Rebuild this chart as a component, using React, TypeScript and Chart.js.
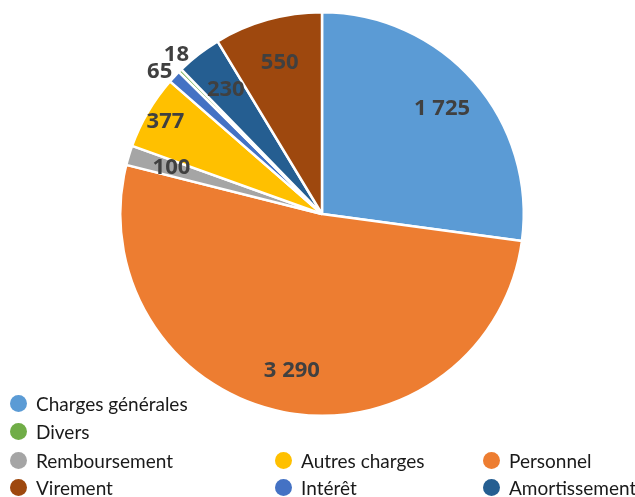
import React, { useEffect, useRef } from "react";
import { Chart, registerables } from "chart.js";

Chart.register(...registerables);

const categories = [
  "Charges générales",
  "Personnel",
  "Remboursement",
  "Autres charges",
  "Intérêt",
  "Divers",
  "Amortissement",
  "Virement",
];
const values = [1725, 3290, 100, 377, 65, 18, 230, 550];
const colors = ["#5B9BD5", "#ED7D31", "#A5A5A5", "#FFC000", "#4472C4", "#70AD47", "#255E91", "#9E480E"];
// label distance from centre, as a fraction of the radius
const labelRadius = [0.79, 0.79, 0.78, 0.9, 1.07, 1.07, 0.78, 0.78];
const labelAngleShift = [0, 0, 0, 0, -0.03, 0.04, 0, 0];

const legendRows = [
  ["Charges générales"],
  ["Divers"],
  ["Remboursement", "Autres charges", "Personnel"],
  ["Virement", "Intérêt", "Amortissement"],
];
const legendCols = [10, 275, 483];
const legendRowY = [403, 431, 460, 487];

const fmt = (v: number) => String(v).replace(/\B(?=(\d{3})+(?!\d))/g, " ");

const labelPlugin = {
  id: "sliceLabels",
  afterDatasetsDraw(chart: any) {
    const ctx = chart.ctx;
    const meta = chart.getDatasetMeta(0);
    ctx.save();
    ctx.font = "bold 22px 'Open Sans', 'Liberation Sans', sans-serif";
    ctx.fillStyle = "#404040";
    ctx.textAlign = "center";
    ctx.textBaseline = "middle";
    meta.data.forEach((arc: any, i: number) => {
      const p = arc.getProps(["x", "y", "startAngle", "endAngle", "outerRadius"], true);
      const mid = (p.startAngle + p.endAngle) / 2 + labelAngleShift[i];
      const r = p.outerRadius * labelRadius[i];
      ctx.fillText(fmt(values[i]), p.x + Math.cos(mid) * r, p.y + Math.sin(mid) * r);
    });
    ctx.restore();
  },
};

export default function App() {
  const ref = useRef<HTMLCanvasElement>(null);
  useEffect(() => {
    const chart = new Chart(ref.current!, {
      type: "pie",
      data: {
        labels: categories,
        datasets: [
          {
            data: values,
            backgroundColor: colors,
            borderColor: "#ffffff",
            borderWidth: 2.5,
          },
        ],
      },
      options: {
        animation: false,
        responsive: false,
        maintainAspectRatio: false,
        layout: { padding: { left: 119, right: 110, top: 11, bottom: 80 } },
        plugins: { legend: { display: false }, tooltip: { enabled: false } },
      },
      plugins: [labelPlugin],
    });
    return () => chart.destroy();
  }, []);

  const idx = (name: string) => categories.indexOf(name);

  return (
    <div style={{ position: "fixed", left: 0, top: 0, width: 635, height: 497, background: "#fff", overflow: "hidden" }}>
      <canvas ref={ref} width={635} height={497} style={{ position: "absolute", left: 0, top: 0 }} />
      {legendRows.map((row, ri) =>
        row.map((name, ci) => (
          <div
            key={name}
            style={{
              position: "absolute",
              left: legendCols[ci],
              top: legendRowY[ri] - 12,
              height: 24,
              display: "flex",
              alignItems: "center",
              whiteSpace: "nowrap",
              fontFamily: "Lato, 'Noto Sans', sans-serif",
              fontSize: 19,
              color: "#1a1a1a",
            }}
          >
            <span
              style={{
                display: "inline-block",
                width: 17,
                height: 17,
                borderRadius: "50%",
                background: colors[idx(name)],
                marginRight: 9,
              }}
            />
            {name}
          </div>
        ))
      )}
    </div>
  );
}
